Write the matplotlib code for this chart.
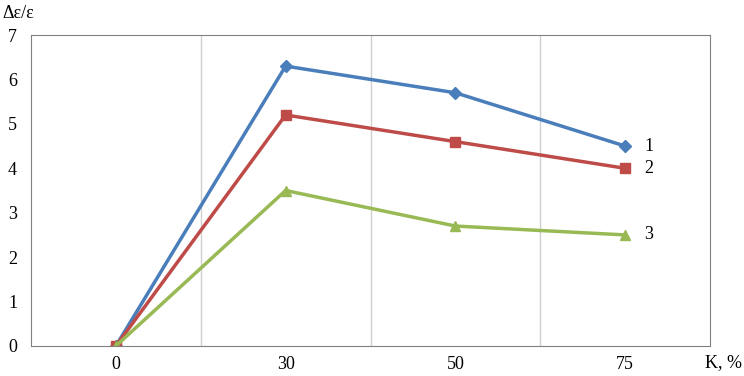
import matplotlib as mpl
import matplotlib.pyplot as plt
import numpy as np

mpl.rcParams['font.family'] = ['Liberation Serif', 'DejaVu Serif']
mpl.rcParams['font.size'] = 13

categories = ['0', '30', '50', '75']
series1 = [0, 6.3, 5.7, 4.5]
series2 = [0, 5.2, 4.6, 4.0]
series3 = [0, 3.5, 2.7, 2.5]
names = ['1', '2', '3']

fig = plt.figure(figsize=(7.44, 3.76), dpi=100)
ax = fig.add_axes([31/744, 1 - 346/376, 679/744, 311/376])

x = np.arange(len(categories))
ax.plot(x, series1, '-D', color='#4A7EBB', lw=2.5, ms=6)
ax.plot(x, series2, '-s', color='#BE4B48', lw=2.5, ms=7)
ax.plot(x, series3, '-^', color='#98B954', lw=2.5, ms=7)

for vals, name in zip([series1, series2, series3], names):
    ax.annotate(name, (x[-1], vals[-1]), xytext=(14, 0), textcoords='offset points',
                va='center', ha='left')

ax.set_xlim(-0.5, len(categories) - 0.5)
ax.set_ylim(0, 7)
ax.set_xticks(x)
ax.set_xticklabels(categories)
ax.set_yticks(range(0, 8))
ax.set_xticks(np.arange(0.5, len(categories) - 0.5, 1), minor=True)
ax.grid(which='minor', axis='x', color='#D0D0D0', lw=1)
ax.tick_params(axis='x', which='both', length=0, pad=7)
ax.tick_params(axis='y', which='both', length=0, pad=10)
for side in ['left', 'top', 'right', 'bottom']:
    ax.spines[side].set_color('#808080')

fig.text(2/744, 1 - 14/376, 'Δε/ε', ha='left', va='center')
fig.text(742/744, 1 - 363/376, 'K, %', ha='right', va='center')

fig.savefig('out.png', dpi=100)
